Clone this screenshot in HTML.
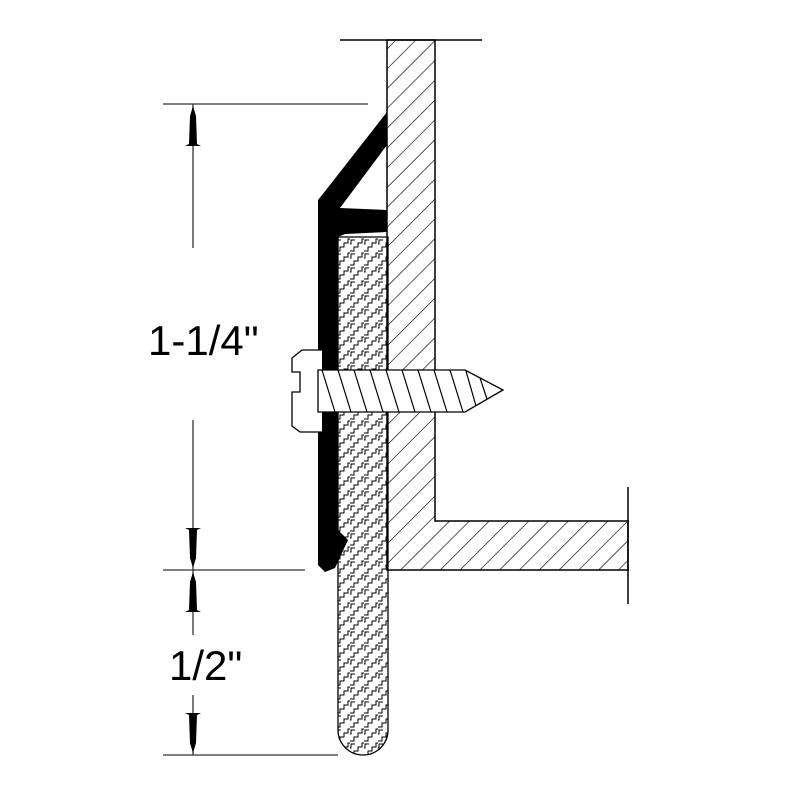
<!DOCTYPE html>
<html><head><style>body{margin:0;background:#fff}svg{display:block}</style></head>
<body>
<svg width="800" height="800" viewBox="0 0 800 800" xmlns="http://www.w3.org/2000/svg">
<defs>
<pattern id="hatch" width="14" height="14" patternUnits="userSpaceOnUse" patternTransform="rotate(45)">
<line x1="0" y1="0" x2="0" y2="14" stroke="#000" stroke-width="1.3"/>
</pattern>
<pattern id="zig" width="14" height="14" patternUnits="userSpaceOnUse">
<path d="M0 13 H4 V9 H8 V5 H12 V1 H14" fill="none" stroke="#000" stroke-width="1"/>
<path d="M0 6 H1 V2 H5" fill="none" stroke="#000" stroke-width="1"/>
</pattern>
<g id="arr"><path d="M0 0 L-3 10 L-4 38 L-8 40 L8 40 L4 38 L3 10 Z" fill="#000"/></g>
</defs>
<path d="M387 40 V570 H628 V521 H435 V40 Z" fill="url(#hatch)" stroke="#000" stroke-width="1.5"/>
<line x1="340" y1="40" x2="482" y2="40" stroke="#000" stroke-width="1.5"/>
<line x1="628" y1="487" x2="628" y2="604" stroke="#000" stroke-width="1.5"/>
<path d="M338 237 H388 V730 A25 25 0 0 1 338 730 Z" fill="url(#zig)" stroke="#000" stroke-width="1.3"/>
<path d="M318 200 L326 190 L387 112 L387 145 L340 208 L387 210 L387 232 L345 234 L338 237 L338 530 L348 540 L335 568 L325 572 L318 565 Z" fill="#000"/>
<path d="M322 350 H302 L292 358 V372 H300 V392 H292 V426 L300 432 H322" fill="#fff" stroke="#000" stroke-width="1.3"/>
<path d="M318 370 H465 L503 390 L465 412 H318 Z" fill="#fff" stroke="#000" stroke-width="1.3"/>
<g stroke="#000" stroke-width="1.2">
<line x1="322" y1="370" x2="335" y2="412"/><line x1="338" y1="370" x2="351" y2="412"/>
<line x1="354" y1="370" x2="367" y2="412"/><line x1="370" y1="370" x2="383" y2="412"/>
<line x1="386" y1="370" x2="399" y2="412"/><line x1="402" y1="370" x2="415" y2="412"/>
<line x1="418" y1="370" x2="431" y2="412"/><line x1="434" y1="370" x2="447" y2="412"/>
<line x1="450" y1="370" x2="463" y2="412"/><line x1="466" y1="371" x2="476" y2="406"/>
<line x1="480" y1="378" x2="487" y2="399"/>
</g>
<g stroke="#333" stroke-width="1.3">
<line x1="163" y1="104" x2="368" y2="104"/>
<line x1="163" y1="570" x2="305" y2="570"/>
<line x1="163" y1="755" x2="338" y2="755"/>
<line x1="193" y1="104" x2="193" y2="248"/>
<line x1="193" y1="420" x2="193" y2="570"/>
<line x1="193" y1="570" x2="193" y2="635"/>
<line x1="193" y1="695" x2="193" y2="755"/>
</g>
<use href="#arr" transform="translate(193,106)"/>
<use href="#arr" transform="translate(193,568) scale(1,-1)"/>
<use href="#arr" transform="translate(193,572)"/>
<use href="#arr" transform="translate(193,753) scale(1,-1)"/>
<text x="148" y="355" font-family="Liberation Sans, sans-serif" font-size="42">1-1/4"</text>
<text x="169" y="680" font-family="Liberation Sans, sans-serif" font-size="42">1/2"</text>
</svg>
</body></html>
